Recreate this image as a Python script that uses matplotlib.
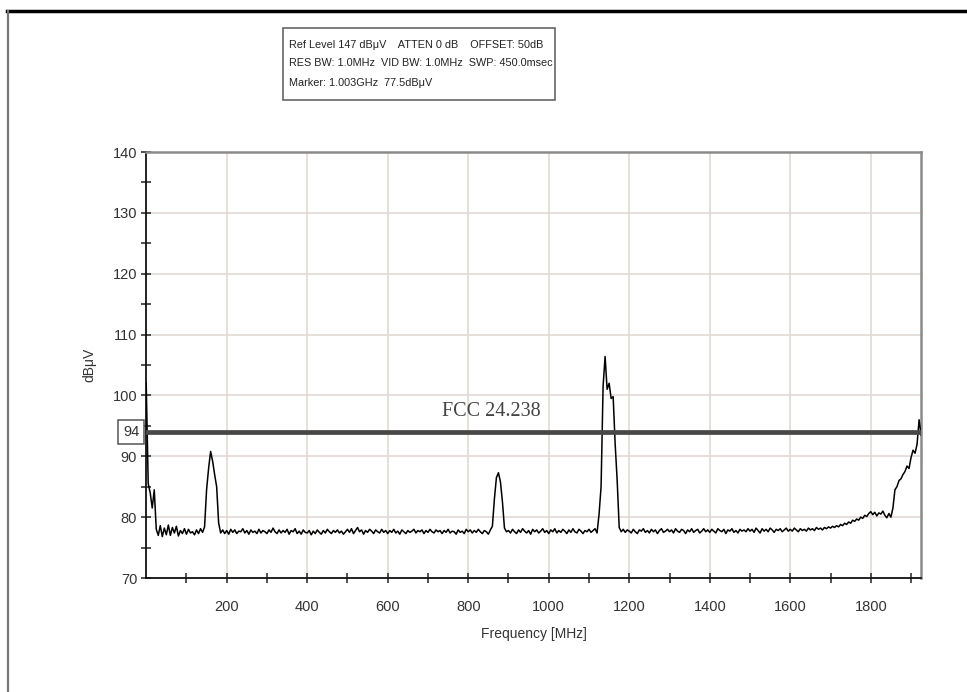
import numpy as np
import matplotlib.pyplot as plt
from matplotlib.lines import Line2D
from matplotlib.patches import Rectangle
from matplotlib.ticker import MultipleLocator, FixedLocator

plt.rcParams['font.family'] = ['Liberation Sans', 'DejaVu Sans']

# Sweep: 0 - 1925 MHz in 5 MHz steps
freq_mhz = np.arange(0, 1930, 5)

# Measured level (dBuV), one row per 100 MHz
level_dbuv = [
    102.0, 85.5, 84.0, 81.5, 84.5, 78.0, 77.0, 78.6, 76.8, 78.2, 77.1, 78.7, 77.0, 78.3, 77.4, 78.5, 76.9, 77.8, 77.3, 78.1,
    77.2, 78.0, 77.4, 77.6, 77.1, 77.9, 77.3, 78.1, 77.5, 78.4, 84.5, 88.0, 90.8, 89.2, 87.0, 85.0, 79.0, 77.4, 77.9, 77.3,
    77.8, 77.2, 78.0, 77.5, 77.9, 77.3, 77.7, 77.6, 78.1, 77.4, 77.8, 77.2, 77.9, 77.5, 77.7, 77.3, 78.0, 77.4, 77.8, 77.6,
    77.3, 77.9, 77.5, 78.2, 77.6, 77.3, 77.9, 77.4, 77.8, 77.5, 78.0, 77.2, 77.8, 77.6, 78.1, 77.3, 77.7, 77.2, 77.9, 77.5,
    77.4, 77.8, 77.1, 77.7, 77.3, 77.9, 77.5, 77.2, 77.8, 77.4, 78.0, 77.6, 77.3, 77.8, 77.5, 77.9, 77.4, 77.7, 77.2, 77.6,
    78.0, 77.5, 78.1, 77.3, 77.8, 78.3, 77.6, 77.9, 77.2, 77.8, 77.5, 78.0, 77.7, 77.3, 77.9, 77.6, 77.4, 78.0, 77.5, 77.8,
    77.3, 77.8, 77.5, 78.0, 77.4, 77.7, 77.2, 77.9, 77.6, 77.3, 77.8, 77.5, 77.7, 78.0, 77.4, 77.8, 77.6, 77.9, 77.3, 77.8,
    77.5, 78.0, 77.6, 77.4, 77.9, 77.6, 77.8, 77.3, 77.8, 77.5, 78.0, 77.4, 77.7, 77.6, 77.2, 77.9, 77.5, 77.7, 77.3, 78.0,
    77.6, 77.9, 77.4, 77.8, 77.5, 78.0, 77.6, 77.3, 77.8, 77.6, 77.2, 77.9, 78.5, 83.0, 86.5, 87.3, 85.8, 82.5, 78.2, 77.6,
    77.8, 77.4, 78.0, 77.6, 77.3, 77.9, 77.5, 78.1, 77.7, 77.4, 77.8, 77.2, 78.0, 77.6, 77.9, 77.4, 77.7, 78.1, 77.5, 77.8,
    77.3, 77.9, 77.6, 78.1, 77.4, 77.8, 77.5, 78.0, 77.7, 77.3, 77.9, 77.5, 78.1, 77.6, 77.4, 78.0, 77.7, 77.3, 77.8, 77.6,
    78.0, 77.5, 77.8, 78.1, 77.4, 80.5, 85.0, 101.5, 106.4, 101.0, 102.0, 99.5, 99.8, 92.0, 86.0, 78.3, 77.6, 78.0, 77.5, 77.9,
    77.7, 77.4, 78.0, 77.6, 77.3, 77.9, 77.7, 78.1, 77.5, 77.8, 77.4, 78.0, 77.6, 77.9, 77.3, 77.8, 78.1, 77.5, 77.7, 78.0,
    77.6, 77.9, 77.4, 78.1, 77.7, 77.5, 78.0, 77.8, 77.3, 77.9, 77.6, 78.1, 77.5, 77.8, 78.0, 77.4, 77.7, 78.1, 77.6, 77.9,
    77.5, 78.0, 77.7, 77.4, 78.1, 77.8, 77.6, 78.0, 77.3, 77.9, 77.7, 78.1, 77.5, 77.8, 77.4, 78.0, 77.7, 77.9, 77.6, 78.1,
    77.7, 78.0, 77.5, 78.2, 77.8, 77.4, 78.1, 77.7, 78.0, 77.6, 78.2, 77.9, 77.5, 78.0, 77.8, 78.1, 77.6, 77.9, 78.2, 77.7,
    78.0, 77.7, 78.2, 77.9, 77.6, 78.1, 77.8, 78.0, 77.7, 78.2, 77.9, 78.1, 77.8, 78.3, 78.0, 78.2, 77.9, 78.3, 78.1, 78.4,
    78.2, 78.5, 78.3, 78.6, 78.4, 78.8, 78.6, 79.0, 78.8, 79.2, 79.0, 79.5, 79.3, 79.7, 79.5, 80.0, 79.8, 80.3, 80.1, 80.6,
    80.9, 80.4, 80.8, 80.2, 80.7, 80.5, 81.0, 80.3, 79.9, 80.6, 80.0, 81.5, 84.5, 85.0, 86.0, 86.3, 87.0, 87.5, 88.4, 88.0,
    89.8, 91.0, 90.5, 92.0, 96.0, 93.5,
]

limit_dbuv = 94
limit_label = "FCC 24.238"
header_lines = [
    "Ref Level 147 dB\u03bcV    ATTEN 0 dB    OFFSET: 50dB",
    "RES BW: 1.0MHz  VID BW: 1.0MHz  SWP: 450.0msec",
    "Marker: 1.003GHz  77.5dB\u03bcV",
]

fig = plt.figure(figsize=(9.67, 6.92), dpi=100)
ax = fig.add_axes([146.2 / 967, 1 - 578 / 692, (920.7 - 146.2) / 967, (578 - 152) / 692])

ax.plot(freq_mhz, level_dbuv, color='black', lw=1.1, zorder=3)
ax.axhline(limit_dbuv, color='#474747', lw=3.4, zorder=4)
ax.text(857, 97.3, limit_label, family='Liberation Serif', fontsize=14.5,
        color='#444444', ha='center', va='center')
ax.text(-0.009, limit_dbuv, str(limit_dbuv), transform=ax.get_yaxis_transform(),
        ha='right', va='center', fontsize=10.5, color='#333333',
        bbox=dict(boxstyle='square,pad=0.35', fc='white', ec='#555555', lw=1.1))

ax.set_xlim(0, 1924)
ax.set_ylim(70, 140)
ax.xaxis.set_major_locator(FixedLocator(range(200, 1801, 200)))
ax.xaxis.set_minor_locator(FixedLocator(range(100, 1901, 200)))
ax.yaxis.set_major_locator(MultipleLocator(10))
ax.yaxis.set_minor_locator(MultipleLocator(5))
ax.tick_params(which='both', direction='inout', length=7, width=1.1, color='#222222',
               labelsize=10.5, labelcolor='#333333')
ax.tick_params(axis='x', which='major', pad=12)
ax.tick_params(axis='y', which='major', pad=3)

ax.grid(True, which='major', color='#e3d9d5', lw=1.2, zorder=0)
ax.set_axisbelow(True)

for side in ['left', 'bottom']:
    ax.spines[side].set_color('#111111')
    ax.spines[side].set_linewidth(1.3)
for side in ['top', 'right']:
    ax.spines[side].set_color('#8a8a8a')
    ax.spines[side].set_linewidth(1.8)

ax.set_xlabel("Frequency [MHz]", fontsize=10, color='#333333', labelpad=10)
ax.set_ylabel("dB\u03bcV", fontsize=10, color='#333333', labelpad=12)

# header box with analyser settings
fig.patches.append(Rectangle((283 / 967, 1 - 100 / 692), (555 - 283) / 967, 72 / 692,
                             transform=fig.transFigure, fill=False, ec='#666666', lw=1.2))
for i, line in enumerate(header_lines):
    fig.text(289 / 967, 1 - (44.5 + 19 * i) / 692, line, fontsize=7.8, color='#222222',
             ha='left', va='center')

# outer frame lines
fig.lines.append(Line2D([7 / 967, 1], [1 - 11 / 692, 1 - 11 / 692],
                        transform=fig.transFigure, color='black', lw=2.5))
fig.lines.append(Line2D([8 / 967, 8 / 967], [0, 1 - 11 / 692],
                        transform=fig.transFigure, color='#777777', lw=1.6))

fig.savefig('out.png', dpi=100)
